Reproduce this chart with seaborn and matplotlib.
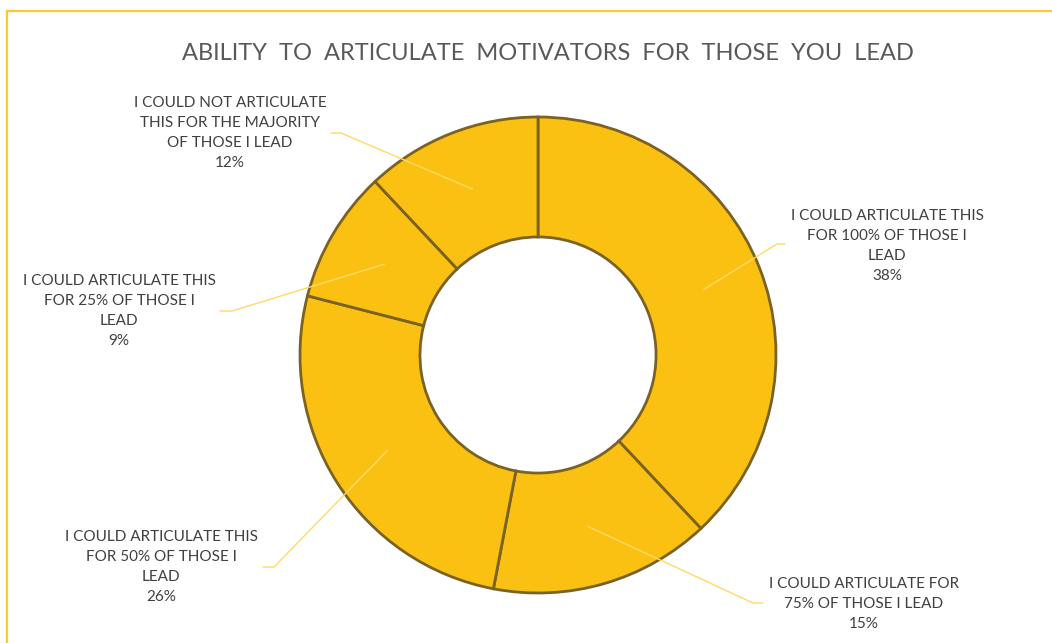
import numpy as np
import matplotlib
matplotlib.use("Agg")
import matplotlib.pyplot as plt
from matplotlib.patches import Rectangle
import seaborn as sns

# Survey answers, clockwise from 12 o'clock
categories = [
    "I COULD ARTICULATE THIS\nFOR 100% OF THOSE I\nLEAD",
    "I COULD ARTICULATE FOR\n75% OF THOSE I LEAD",
    "I COULD ARTICULATE THIS\nFOR 50% OF THOSE I\nLEAD",
    "I COULD ARTICULATE THIS\nFOR 25% OF THOSE I\nLEAD",
    "I COULD NOT ARTICULATE\nTHIS FOR THE MAJORITY\nOF THOSE I LEAD",
]
shares = [38, 15, 26, 9, 12]
title = "ABILITY  TO  ARTICULATE  MOTIVATORS  FOR  THOSE  YOU  LEAD"

sns.set_theme(style="white")
plt.rcParams["font.family"] = ["Lato", "DejaVu Sans"]

W, H = 1052, 643
fig = plt.figure(figsize=(W / 100, H / 100), dpi=100)
fig.patch.set_facecolor("white")

# donut geometry in pixels
cx, cy, R = 538, 355, 238
half = 250
ax = fig.add_axes([(cx - half) / W, (H - cy - half) / H, 2 * half / W, 2 * half / H])
lim = half / R

fill = "#FBC112"
edge = "#7A6224"
wedges, _ = ax.pie(
    shares,
    startangle=90,
    counterclock=False,
    colors=[fill] * len(shares),
    radius=1.0,
    wedgeprops=dict(width=0.504, edgecolor=edge, linewidth=2.0),
)
ax.set_xlim(-lim, lim)
ax.set_ylim(-lim, lim)
ax.set_aspect("equal")
ax.axis("off")

def px(x, y):
    return (x - cx) / R, (cy - y) / R

# label block centre and leader end / elbow, in pixels
label_pos = [(887, 246), (864, 604), (161, 567), (119, 311), (230, 133)]
leader_end = [(785, 244), (763, 603), (263, 567), (220, 311), (331, 133)]
leader_elbow = [(777, 244), (753, 603), (274, 567), (232, 311), (341, 133)]

leader_col = "#FFD966"
text_col = "#404040"
for w, cat, val, lp, le, lb in zip(wedges, categories, shares, label_pos, leader_end, leader_elbow):
    mid = np.deg2rad((w.theta1 + w.theta2) / 2)
    ax_x, ax_y = 0.75 * np.cos(mid), 0.75 * np.sin(mid)
    ex, ey = px(*le)
    bx, by = px(*lb)
    ax.plot([ax_x, bx, ex], [ax_y, by, ey], color=leader_col, lw=1.0,
            clip_on=False, zorder=5)
    tx, ty = px(*lp)
    ax.text(tx, ty, f"{cat}\n{val}%", ha="center", va="center",
            fontsize=11, color=text_col, linespacing=1.55, clip_on=False)

fig.text(548 / W, 1 - 54 / H, title, ha="center", va="center",
         fontsize=17, color="#595959")

# chart frame
fig.patches.append(Rectangle((7 / W, -0.1), 1.2, 1 - 11 / H + 0.1,
                             transform=fig.transFigure, fill=False,
                             edgecolor="#FAC832", linewidth=1.6))

fig.savefig("out.png", dpi=100, facecolor="white")
